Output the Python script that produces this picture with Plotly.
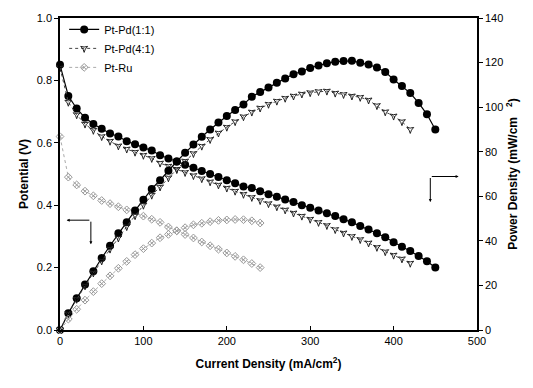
import plotly.graph_objects as go

# Current density (mA/cm2)
i_pd11 = [0, 10, 20, 30, 40, 50, 60, 70, 80, 90, 100, 110, 120, 130, 140, 150, 160, 170, 180, 190,
          200, 210, 220, 230, 240, 250, 260, 270, 280, 290, 300, 310, 320, 330, 340, 350, 360, 370,
          380, 390, 400, 410, 420, 430, 440, 450]
v_pd11 = [0.85, 0.75, 0.71, 0.68, 0.66, 0.645, 0.63, 0.62, 0.605, 0.595, 0.585, 0.575, 0.56, 0.55,
          0.54, 0.53, 0.52, 0.51, 0.50, 0.49, 0.48, 0.47, 0.46, 0.455, 0.445, 0.435, 0.427, 0.418,
          0.41, 0.40, 0.392, 0.383, 0.374, 0.365, 0.355, 0.345, 0.333, 0.322, 0.31, 0.297, 0.281,
          0.267, 0.253, 0.237, 0.22, 0.20]
p_pd11 = [0, 7.5, 14.2, 20.4, 26.4, 32.3, 37.8, 43.4, 48.4, 53.6, 58.5, 63.3, 67.2, 71.5, 75.6,
          79.5, 83.2, 86.7, 90.0, 93.1, 96.0, 98.7, 101.2, 104.7, 106.8, 108.8, 111.0, 112.9, 114.8,
          116.0, 117.6, 118.7, 119.7, 120.4, 120.7, 120.8, 119.9, 119.1, 117.8, 115.8, 112.4, 109.5,
          106.3, 101.9, 96.8, 90.0]

i_pd41 = [0, 10, 20, 30, 40, 50, 60, 70, 80, 90, 100, 110, 120, 130, 140, 150, 160, 170, 180, 190,
          200, 210, 220, 230, 240, 250, 260, 270, 280, 290, 300, 310, 320, 330, 340, 350, 360, 370,
          380, 390, 400, 410, 420]
v_pd41 = [0.84, 0.73, 0.69, 0.66, 0.64, 0.62, 0.605, 0.59, 0.58, 0.57, 0.56, 0.55, 0.535, 0.525,
          0.515, 0.505, 0.495, 0.485, 0.475, 0.465, 0.455, 0.445, 0.435, 0.425, 0.415, 0.405, 0.395,
          0.385, 0.375, 0.365, 0.355, 0.345, 0.335, 0.322, 0.311, 0.30, 0.29, 0.279, 0.265, 0.251,
          0.24, 0.228, 0.214]
p_pd41 = [0, 7.3, 13.8, 19.8, 25.6, 31.0, 36.3, 41.3, 46.4, 51.3, 56.0, 60.5, 64.2, 68.3, 72.1,
          75.8, 79.2, 82.5, 85.5, 88.4, 91.0, 93.5, 95.7, 97.8, 99.6, 101.3, 102.7, 104.0, 105.0,
          105.9, 106.5, 107.0, 107.2, 106.3, 105.7, 105.0, 104.4, 103.2, 100.7, 97.9, 96.0, 93.5,
          90.0]

i_ru = [0, 10, 20, 30, 40, 50, 60, 70, 80, 90, 100, 110, 120, 130, 140, 150, 160, 170, 180, 190,
        200, 210, 220, 230, 240]
v_ru = [0.62, 0.49, 0.465, 0.445, 0.43, 0.415, 0.405, 0.395, 0.385, 0.375, 0.365, 0.355, 0.345,
        0.33, 0.318, 0.306, 0.295, 0.282, 0.27, 0.259, 0.247, 0.236, 0.225, 0.213, 0.20]
p_ru = [0, 4.9, 9.3, 13.4, 17.2, 20.8, 24.3, 27.7, 30.8, 33.8, 36.5, 39.0, 41.4, 42.9, 44.5, 45.9,
        47.2, 47.9, 48.6, 49.2, 49.4, 49.6, 49.5, 49.0, 48.0]

FONT = "Liberation Sans, Arial, sans-serif"

fig = go.Figure()

styles = [
    ("Pt-Pd(1:1)", i_pd11, v_pd11, p_pd11,
     dict(color="black", width=1.2, dash="solid"),
     dict(symbol="circle", size=8, color="black")),
    ("Pt-Pd(4:1)", i_pd41, v_pd41, p_pd41,
     dict(color="#444", width=1, dash="dot"),
     dict(symbol="star-triangle-down-open", size=5, color="#222", line=dict(width=1, color="#222"))),
    ("Pt-Ru", i_ru, v_ru, p_ru,
     dict(color="#aaa", width=1, dash="dot"),
     dict(symbol="diamond-x-open", size=6, color="#999", line=dict(width=1, color="#999"))),
]

for name, i, v, p, line, marker in styles:
    fig.add_trace(go.Scatter(x=i, y=v, name=name, legendgroup=name, mode="lines+markers",
                             line=line, marker=marker, cliponaxis=False, yaxis="y"))
    fig.add_trace(go.Scatter(x=i, y=p, name=name, legendgroup=name, mode="lines+markers",
                             line=line, marker=marker, cliponaxis=False, yaxis="y2",
                             showlegend=False))

# guide arrows (left: potential axis, right: power axis)
arrow = dict(xref="x", yref="y", axref="x", ayref="y", showarrow=True, arrowhead=2,
             arrowsize=0.6, arrowwidth=1, arrowcolor="black", text="")
fig.add_annotation(x=8, y=0.352, ax=37, ay=0.352, **arrow)
fig.add_annotation(x=37, y=0.275, ax=37, ay=0.352, **arrow)
fig.add_annotation(x=478, y=0.492, ax=444, ay=0.492, **arrow)
fig.add_annotation(x=444, y=0.41, ax=444, ay=0.492, **arrow)

axis_common = dict(showgrid=False, zeroline=False, showline=True, linecolor="black", linewidth=1.5,
                   tickcolor="black", tickfont=dict(family=FONT, size=11, color="black"))

fig.update_layout(
    width=533, height=388,
    margin=dict(l=60, r=56, t=15, b=58),
    paper_bgcolor="white", plot_bgcolor="white",
    font=dict(family=FONT, color="black"),
    xaxis=dict(range=[0, 500], dtick=100, ticks="inside", ticklen=4, mirror=True,
               title=dict(text="<b>Current Density (mA/cm<sup>2</sup>)</b>",
                          font=dict(family=FONT, size=12), standoff=14),
               **axis_common),
    yaxis=dict(range=[0, 1.0], dtick=0.2, tickformat=".1f", ticks="outside", ticklen=4,
               title=dict(text="<b>Potential (V)</b>", font=dict(family=FONT, size=12), standoff=6),
               **axis_common),
    yaxis2=dict(range=[0, 140], dtick=20, ticks="outside", ticklen=4, overlaying="y", side="right",
                title=dict(text="<b>Power Density (mW/cm   <sup>2</sup>)</b>",
                           font=dict(family=FONT, size=12), standoff=6),
                **axis_common),
    legend=dict(x=0.01, y=1.01, xanchor="left", yanchor="top", bgcolor="rgba(0,0,0,0)",
                font=dict(family=FONT, size=11), tracegroupgap=0, itemwidth=30),
    showlegend=True,
)

fig.write_html("out.html")
